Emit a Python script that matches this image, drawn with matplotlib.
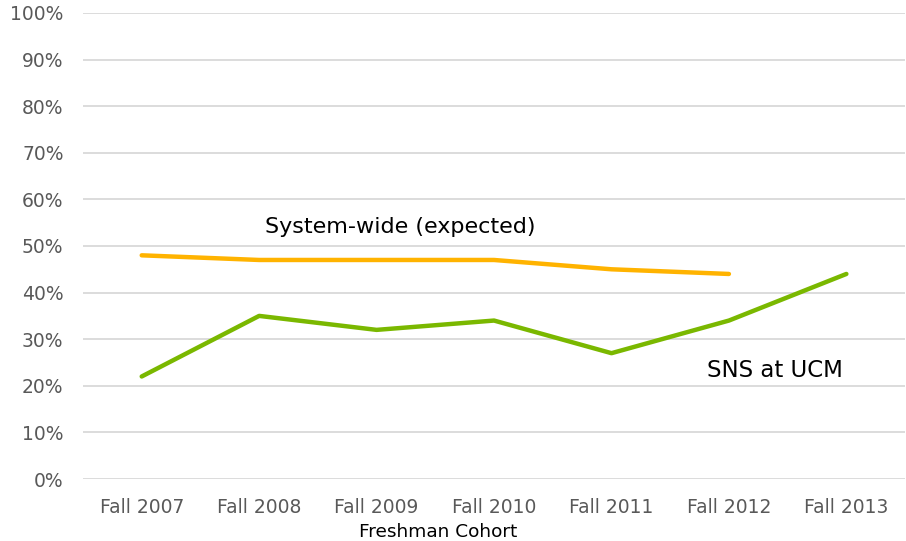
import matplotlib
matplotlib.use("Agg")
import matplotlib.pyplot as plt
from matplotlib.ticker import PercentFormatter

plt.rcParams['font.family'] = ['DejaVu Sans']

categories = ["Fall 2007", "Fall 2008", "Fall 2009", "Fall 2010", "Fall 2011", "Fall 2012", "Fall 2013"]
system_wide = [48, 47, 47, 47, 45, 44]
sns_ucm = [22, 35, 32, 34, 27, 34, 44]

fig = plt.figure(figsize=(9.06, 5.41), dpi=100)
ax = fig.add_axes([0.0916, 0.1146, 0.9074, 0.8614])

x = list(range(len(categories)))
ax.plot(x[:len(system_wide)], system_wide, color="#FFB300", lw=3.2, solid_capstyle="round")
ax.plot(x, sns_ucm, color="#7AB800", lw=3.2, solid_capstyle="round")

ax.set_xlim(-0.5, len(categories) - 0.5)
ax.set_ylim(0, 100)
ax.set_yticks(range(0, 101, 10))
ax.yaxis.set_major_formatter(PercentFormatter(decimals=0))
ax.set_xticks(x)
ax.set_xticklabels(categories)
ax.grid(axis="y", color="#D9D9D9", lw=1.3)
ax.set_axisbelow(True)
for s in ax.spines.values():
    s.set_visible(False)
ax.tick_params(axis="both", length=0, labelsize=13.5, colors="#595959")
ax.tick_params(axis="y", pad=14)
ax.tick_params(axis="x", pad=14)

ax.text(2.2, 54.0, "System-wide (expected)", fontsize=16, color="black", ha="center", va="center")
ax.text(5.39, 23.2, "SNS at UCM", fontsize=16.5, color="black", ha="center", va="center")

fig.text(438 / 906, 1 - 532 / 541, "Freshman Cohort", fontsize=13.3, color="black", ha="center", va="center")

fig.savefig("out.png", dpi=100)
